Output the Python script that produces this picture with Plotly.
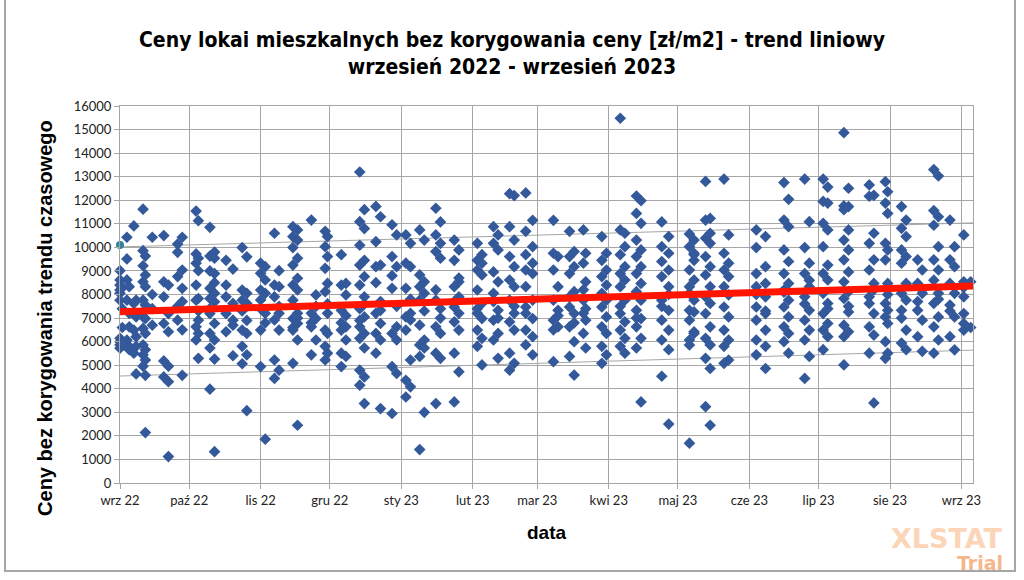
import datetime as dt
import plotly.graph_objects as go

# --- dane: dzien miesiaca -> ceny [zl/m2] ---
wrz22 = {
    1: [9010, 8620, 8400, 8190, 8050, 7760, 6140, 5860, 6000, 5720],
    2: [7400, 6600, 8300, 5900],
    4: [10430, 9510, 8620, 7760, 6070],
    5: [8330, 6630, 5800, 5660, 7200],
    7: [10910, 7620, 6490, 5510],
    8: [7760, 7190, 6210, 5800, 4630, 7050],
    11: [11620, 9860, 9220, 8540, 7760, 7050, 6560, 5860, 5440, 4960],
    12: [9630, 8830, 8330, 7550, 6980, 6350, 5660, 5220, 4570, 2140],
    15: [10430, 7400, 6700, 8000],
    20: [10500, 8540, 7900, 6770, 5180, 4500],
    22: [8400, 7190, 6420, 4960, 4300, 1120],
    26: [10140, 9790, 8760, 6910, 7500],
    28: [10430, 9040, 8260, 4570, 7700, 6500],
}
paz22 = {
    4: [11540, 9720, 9330, 8400, 7760, 6630, 6070],
    5: [11130, 9540, 9010, 7830, 6910, 6350, 5290, 7300],
    10: [10850, 9630, 9000, 8260, 7830, 7190, 6350, 5730, 3980, 7400],
    12: [9800, 9540, 8890, 8050, 7690, 6770, 6070, 5260, 1330, 8500],
    17: [9450, 8400, 7190, 6420, 7900],
    20: [9080, 7620, 6910, 5400, 6700],
    24: [9990, 8190, 7760, 6490, 5800, 5060, 7300],
    26: [9600, 8050, 7620, 6350, 5440, 3070, 6900],
}
lis22 = {
    1: [9330, 8900, 8190, 7770, 6490, 4940, 7400],
    3: [9180, 8615, 8050, 7200, 1860, 6800],
    7: [10600, 8400, 7900, 6920, 5220, 4440],
    9: [9010, 8330, 7200, 6490, 4790, 7500],
    15: [10880, 10460, 9990, 9250, 8400, 7760, 6980, 6490, 5080, 6600],
    17: [10740, 10310, 9540, 8690, 8190, 7200, 6770, 6070, 2450, 7000],
    23: [11160, 7200, 6630, 5440, 6800],
    25: [7980, 6980, 6070, 7500],
    29: [10680, 10030, 9110, 8120, 6490, 5800, 5220],
    30: [10460, 9610, 8470, 7200, 6350, 5510, 7600],
}
gru22 = {
    6: [9690, 8400, 7330, 6490, 5510, 4940, 6800],
    8: [8470, 7980, 6630, 6070, 5370, 7100],
    14: [13200, 11090, 10090, 9250, 8400, 7400, 6630, 6140, 4790, 4150, 6900],
    16: [11600, 10800, 9450, 8760, 7900, 7050, 6350, 5730, 4500, 3370, 7600],
    21: [11740, 10240, 9180, 7200, 6350, 5510, 8500],
    23: [11300, 9250, 7330, 6770, 6070, 3160, 7700],
    28: [10960, 9610, 8260, 6350, 4940, 2950, 8800],
    30: [10530, 9180, 6630, 6070, 4650, 7500],
}
sty23 = {
    3: [10530, 9330, 8260, 7050, 6490, 4360, 3650],
    5: [10170, 9180, 7200, 6920, 5220, 4080, 7800],
    9: [10740, 8830, 8330, 7760, 5860, 5370, 1420, 6700],
    11: [10310, 8540, 8050, 6070, 5730, 3000, 7300],
    16: [11660, 10530, 9820, 7760, 6630, 5510, 3370, 8200],
    18: [11080, 10170, 9540, 7400, 6350, 5290, 7000],
    24: [10310, 9450, 8330, 7470, 6840, 5510, 3440, 7700],
    26: [9890, 8540, 7900, 7200, 6490, 4720, 8700],
}
lut23 = {
    3: [10170, 9450, 9040, 8190, 7200, 6490, 5800, 7400],
    5: [9690, 9330, 8830, 7620, 6980, 6140, 5010],
    10: [10880, 10170, 8960, 8050, 6910, 6070, 7700],
    12: [10530, 9890, 8540, 7330, 6350, 5290, 7000],
    17: [12280, 10880, 9610, 8615, 7760, 6840, 5510, 4790],
    19: [12200, 10310, 9180, 8330, 7200, 6490, 5080, 7500],
    24: [12310, 10680, 9690, 9040, 8330, 7470, 6490, 5860, 7200],
    27: [11150, 10030, 9330, 8890, 7760, 6980, 6210, 5440],
}
mar23 = {
    8: [11150, 9750, 9040, 7760, 6910, 5150, 6500],
    10: [9610, 8330, 7330, 6630, 7100],
    15: [10680, 9610, 8890, 7470, 6630, 5370, 7900],
    17: [9820, 9180, 8120, 7190, 6000, 4580, 6800],
    21: [10740, 9330, 7760, 6350, 7200, 8200],
    22: [9750, 8540, 6910, 5730, 7400],
    29: [10460, 9450, 8760, 8050, 7470, 6630, 5800, 5080],
    31: [9750, 9040, 8400, 7760, 7050, 6350, 5440],
}
kwi23 = {
    6: [15480, 10740, 9690, 8890, 8330, 7190, 6490, 5800, 7500],
    8: [10600, 10030, 9180, 8615, 7760, 6840, 6140, 5510],
    13: [12180, 11440, 10310, 9610, 8890, 8120, 7330, 6630, 5730, 7000],
    15: [11980, 11020, 9890, 9180, 8470, 7760, 6980, 6140, 3440],
    24: [11080, 10030, 9400, 8760, 7760, 6910, 6070, 4530, 7500],
    27: [10460, 9750, 9040, 8330, 7330, 6490, 5660, 2500, 8000],
}
maj23 = {
    6: [10570, 9040, 8050, 6910, 6070, 1690, 10030, 8330, 7330, 5860],
    8: [9690, 8615, 7260, 6420, 9750, 10310, 9450, 7760, 6350],
    13: [12800, 11160, 10390, 9610, 8830, 7900, 7190, 6140, 5290, 3240],
    15: [11230, 10600, 10170, 9180, 8330, 7620, 6630, 5860, 4860, 2450],
    21: [12900, 9750, 9040, 8330, 7470, 6490, 5800, 5080],
    23: [10530, 9330, 8760, 7980, 7050, 6070, 5220],
}
cze23 = {
    4: [10740, 9990, 8890, 8330, 7470, 6910, 6070, 5440, 8000],
    8: [10460, 9180, 8470, 7900, 7190, 6490, 5800, 4860, 7300],
    16: [12750, 11160, 9890, 8890, 8190, 7470, 6630, 6000, 8100],
    18: [12040, 10880, 9400, 8470, 7760, 7050, 6350, 5510],
    25: [12900, 9990, 8890, 7900, 6910, 6070, 4440, 7600],
    27: [11090, 9330, 8330, 7330, 6490, 5370, 8600],
}
lip23 = {
    3: [12900, 11950, 11020, 10030, 8890, 8050, 7190, 6490, 5660],
    5: [12560, 11880, 10740, 9250, 8615, 7620, 6770, 6210, 7400],
    12: [14870, 11760, 11600, 10310, 9470, 8540, 7830, 6700, 6210, 5010],
    14: [12510, 11730, 10740, 9890, 8960, 8120, 7260, 6420, 7500],
    23: [12650, 12170, 10170, 9040, 7620, 6630, 5510, 7900],
    25: [12210, 10600, 9470, 8470, 7190, 6280, 3400, 8200],
    30: [12790, 11880, 10170, 9470, 7620, 7050, 6000, 5290],
    31: [12360, 11440, 9890, 8470, 7330, 6770, 5510, 8000],
}
sie23 = {
    6: [11730, 10810, 9890, 9330, 8050, 7330, 5940, 7000],
    8: [11160, 10460, 9610, 8470, 7760, 6490, 5660],
    13: [9470, 8470, 7330, 6210, 7700],
    15: [9040, 8050, 6910, 5590, 8200],
    20: [13300, 11560, 10940, 9470, 8610, 7620, 6630, 5510],
    22: [13030, 11300, 10030, 9040, 8050, 7050, 6070, 7800],
    27: [11160, 9470, 8470, 7550, 6210, 7300],
    29: [10030, 9180, 8050, 7050, 5650],
}
wrz23 = {
    2: [10530, 8540, 7900, 7190, 6770, 6490, 8300],
    5: [8540, 6600],
}

miesiace = [(2022, 9, wrz22), (2022, 10, paz22), (2022, 11, lis22), (2022, 12, gru22),
            (2023, 1, sty23), (2023, 2, lut23), (2023, 3, mar23), (2023, 4, kwi23),
            (2023, 5, maj23), (2023, 6, cze23), (2023, 7, lip23), (2023, 8, sie23),
            (2023, 9, wrz23)]

# punkt wyrozniony (inny kolor)
punkt_start = ("2022-09-01", 10100)

# trend liniowy i przedzialy (wartosci na poczatku i koncu osi)
trend_daty = ["2022-09-01", "2023-09-06"]
trend = [7270, 8360]
gorny = [10020, 11040]
dolny = [4540, 5640]

tick_daty = ["2022-09-01", "2022-10-01", "2022-11-01", "2022-12-01", "2023-01-01",
             "2023-02-01", "2023-03-01", "2023-04-01", "2023-05-01", "2023-06-01",
             "2023-07-01", "2023-08-01", "2023-09-01"]
tick_opisy = ["wrz 22", "paź 22", "lis 22", "gru 22", "sty 23", "lut 23", "mar 23",
              "kwi 23", "maj 23", "cze 23", "lip 23", "sie 23", "wrz 23"]

daty, ceny = [], []
for rok, mies, dane in miesiace:
    for dzien, wartosci in dane.items():
        for w in wartosci:
            daty.append(dt.date(rok, mies, dzien))
            ceny.append(w)

fig = go.Figure()

fig.add_trace(go.Scatter(x=trend_daty, y=gorny, mode="lines",
                         line=dict(color="#A6A6A6", width=1), hoverinfo="skip"))
fig.add_trace(go.Scatter(x=trend_daty, y=dolny, mode="lines",
                         line=dict(color="#A6A6A6", width=1), hoverinfo="skip"))

fig.add_trace(go.Scatter(
    x=daty, y=ceny, mode="markers", cliponaxis=False,
    marker=dict(symbol="diamond", size=9, color="#34599B", line=dict(width=0)),
    name="ceny"))

fig.add_trace(go.Scatter(
    x=[punkt_start[0]], y=[punkt_start[1]], mode="markers", cliponaxis=False,
    marker=dict(symbol="circle", size=8, color="#31849B")))

fig.add_trace(go.Scatter(x=trend_daty, y=trend, mode="lines",
                         line=dict(color="#FF1500", width=7), name="trend"))

fig.update_layout(
    width=1024, height=580,
    margin=dict(l=120, r=51, t=106, b=97),
    paper_bgcolor="white", plot_bgcolor="white",
    showlegend=False,
    font=dict(family="Lato, Liberation Sans, sans-serif", size=13, color="#222222"),
)

fig.update_xaxes(
    type="date", range=["2022-09-01", "2023-09-06"],
    tickvals=tick_daty, ticktext=tick_opisy,
    showgrid=True, gridcolor="#A6A6A6", gridwidth=1,
    showline=True, linecolor="#A6A6A6", mirror=True,
    ticks="outside", ticklen=5, tickcolor="#A6A6A6",
    tickfont=dict(size=13), zeroline=False,
)
fig.update_yaxes(
    range=[0, 16000], dtick=1000, tick0=0, tickformat="d",
    showgrid=True, gridcolor="#A6A6A6", gridwidth=1,
    showline=True, linecolor="#A6A6A6", mirror=True,
    ticks="outside", ticklen=5, tickcolor="#A6A6A6",
    tickfont=dict(size=13), zeroline=False,
)

# tytul
fig.add_annotation(
    xref="paper", yref="paper", x=0.459, y=1.14, showarrow=False,
    text="<b>Ceny lokai mieszkalnych bez korygowania ceny [zł/m2] - trend liniowy</b>"
         "<br><b>wrzesień 2022 - wrzesień 2023</b>",
    font=dict(family="Liberation Sans Narrow, Arial Narrow, DejaVu Sans Condensed",
              size=21, color="black"),
    xanchor="center", yanchor="middle",
)

# opisy osi
fig.add_annotation(xref="paper", yref="paper", x=-0.088, y=0.4377, showarrow=False,
                   text="<b>Ceny bez korygowania trendu czasowego</b>", textangle=-90,
                   xanchor="center", yanchor="middle",
                   font=dict(family="Liberation Sans, Arial", size=20, color="black"))
fig.add_annotation(xref="paper", yref="paper", x=0.5006, y=-0.1326, showarrow=False,
                   text="<b>data</b>", xanchor="center", yanchor="middle",
                   font=dict(family="Liberation Sans, Arial", size=19, color="black"))

# znak wodny
fig.add_annotation(xref="paper", yref="paper", x=1.0375, y=-0.146, showarrow=False,
                   text="<b>XLSTAT</b>", xanchor="right", yanchor="middle",
                   font=dict(family="DejaVu Sans", size=27, color="#FCD5B8"))
fig.add_annotation(xref="paper", yref="paper", x=1.0375, y=-0.212, showarrow=False,
                   text="<b>Trial</b>", xanchor="right", yanchor="middle",
                   font=dict(family="DejaVu Sans", size=19, color="#F6B68C"))

# ramka wykresu
fig.add_shape(type="rect", xref="paper", yref="paper",
              x0=-0.1348, x1=1.0492, y0=-0.2334, y1=1.30,
              line=dict(color="#A6A6A6", width=2), layer="below")

fig.write_html("out.html", config={"displayModeBar": False},
               post_script="document.body.style.margin='0px';")
